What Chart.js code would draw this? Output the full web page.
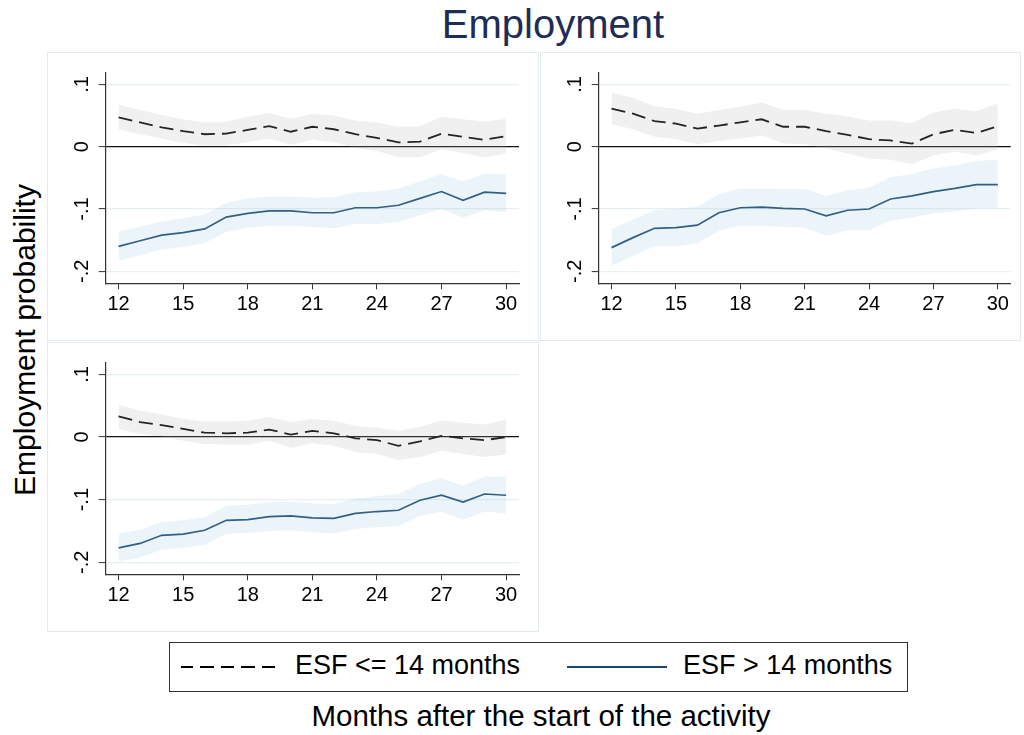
<!DOCTYPE html>
<html>
<head>
<meta charset="utf-8">
<script src="https://cdn.jsdelivr.net/npm/chart.js@4.4.1/dist/chart.umd.min.js"></script>
<style>
  html, body { margin: 0; padding: 0; background: #fff; }
  body { width: 1024px; height: 735px; position: relative; overflow: hidden;
         font-family: "Liberation Sans", Arial, Helvetica, sans-serif; color: #000; }
  .frame { position: absolute; box-sizing: border-box; border: 1.5px solid #e4ebef; }
  .panel { position: absolute; }
  #title { position: absolute; left: 0; width: 1106px; top: 2px; text-align: center;
           font-size: 40px; color: #1e2d53; white-space: nowrap; }
  #ylab { position: absolute; left: 25px; top: 340px; transform: translate(-50%, -50%) rotate(-90deg);
          font-size: 30px; white-space: nowrap; }
  #xlab { position: absolute; left: 0; width: 1082px; top: 699px; text-align: center;
          font-size: 29.5px; white-space: nowrap; }
  #legend { position: absolute; left: 169px; top: 642px; width: 739px; height: 50px;
            box-sizing: border-box; border: 1.5px solid #333; }
  .key { position: absolute; top: 23px; height: 0; }
  .ltext { position: absolute; top: 7px; font-size: 27px; white-space: nowrap; }
</style>
</head>
<body>
<div id="title">Employment</div>
<div id="ylab">Employment probability</div>

<div class="frame" style="left:47px;top:52px;width:492px;height:289px;"></div>
<div class="frame" style="left:540px;top:52px;width:481px;height:289px;"></div>
<div class="frame" style="left:47px;top:342px;width:492px;height:290px;"></div>

<canvas id="c1" class="panel" style="left:47px;top:52px;" width="492" height="289"></canvas>
<canvas id="c2" class="panel" style="left:540px;top:52px;" width="480" height="289"></canvas>
<canvas id="c3" class="panel" style="left:47px;top:342px;" width="492" height="290"></canvas>

<div id="legend">
  <div class="key" style="left:11px;width:98px;border-top:2px dashed #000;border-image:repeating-linear-gradient(90deg,#000 0 13px,transparent 13px 20px) 1;"></div>
  <div class="ltext" style="left:125px;">ESF &lt;= 14 months</div>
  <div class="key" style="left:397px;width:100px;border-top:2px solid #1a476f;"></div>
  <div class="ltext" style="left:513px;">ESF &gt; 14 months</div>
</div>
<div id="xlab">Months after the start of the activity</div>

<script>
// Months after the start of the activity
const months = [12, 13, 14, 15, 16, 17, 18, 19, 20, 21, 22, 23, 24, 25, 26, 27, 28, 29, 30];
const xTicks = [12, 15, 18, 21, 24, 27, 30];
const yTicks = [-0.2, -0.1, 0, 0.1];
const yTickLabels = ['-.2', '-.1', '0', '.1'];
const seriesNames = ['ESF <= 14 months', 'ESF > 14 months'];

// Panel 1: point estimates and 95% bounds
const p1ShortEst = [0.047, 0.039, 0.031, 0.025, 0.020, 0.021, 0.027, 0.033, 0.024, 0.032, 0.028, 0.020, 0.014, 0.007, 0.008, 0.021, 0.016, 0.011, 0.017];
const p1ShortHi  = [0.067, 0.059, 0.051, 0.044, 0.039, 0.040, 0.048, 0.054, 0.045, 0.053, 0.050, 0.042, 0.039, 0.032, 0.033, 0.048, 0.044, 0.040, 0.045];
const p1ShortLo  = [0.028, 0.020, 0.013, 0.006, 0.002, 0.002, 0.007, 0.013, 0.003, 0.011, 0.007, -0.002, -0.007, -0.017, -0.017, -0.004, -0.010, -0.017, -0.011];
const p1LongEst  = [-0.160, -0.151, -0.142, -0.138, -0.132, -0.113, -0.107, -0.103, -0.103, -0.106, -0.106, -0.098, -0.098, -0.094, -0.083, -0.072, -0.086, -0.073, -0.075];
const p1LongHi   = [-0.136, -0.128, -0.120, -0.115, -0.109, -0.090, -0.083, -0.080, -0.080, -0.082, -0.081, -0.073, -0.072, -0.067, -0.056, -0.044, -0.056, -0.043, -0.044];
const p1LongLo   = [-0.183, -0.174, -0.165, -0.161, -0.155, -0.137, -0.130, -0.127, -0.127, -0.129, -0.131, -0.124, -0.124, -0.121, -0.110, -0.100, -0.114, -0.102, -0.105];

// Panel 2
const p2ShortEst = [0.061, 0.053, 0.041, 0.037, 0.029, 0.034, 0.039, 0.044, 0.032, 0.032, 0.025, 0.019, 0.012, 0.010, 0.005, 0.020, 0.027, 0.022, 0.033];
const p2ShortHi  = [0.087, 0.078, 0.065, 0.061, 0.053, 0.059, 0.064, 0.071, 0.059, 0.059, 0.053, 0.049, 0.042, 0.042, 0.038, 0.055, 0.061, 0.057, 0.070];
const p2ShortLo  = [0.036, 0.028, 0.016, 0.012, 0.004, 0.009, 0.013, 0.018, 0.005, 0.004, -0.003, -0.011, -0.019, -0.021, -0.028, -0.014, -0.008, -0.014, -0.004];
const p2LongEst  = [-0.162, -0.146, -0.131, -0.130, -0.126, -0.106, -0.098, -0.097, -0.099, -0.100, -0.111, -0.102, -0.100, -0.084, -0.079, -0.072, -0.067, -0.061, -0.061];
const p2LongHi   = [-0.132, -0.117, -0.102, -0.100, -0.096, -0.076, -0.067, -0.067, -0.068, -0.068, -0.079, -0.070, -0.066, -0.049, -0.044, -0.035, -0.030, -0.023, -0.021];
const p2LongLo   = [-0.191, -0.175, -0.160, -0.160, -0.155, -0.135, -0.127, -0.127, -0.129, -0.130, -0.143, -0.134, -0.134, -0.119, -0.114, -0.107, -0.104, -0.099, -0.099];

// Panel 3
const p3ShortEst = [0.033, 0.024, 0.019, 0.013, 0.007, 0.006, 0.007, 0.012, 0.004, 0.010, 0.006, -0.002, -0.005, -0.014, -0.007, 0.002, -0.002, -0.005, 0.000];
const p3ShortHi  = [0.052, 0.042, 0.036, 0.029, 0.025, 0.025, 0.026, 0.032, 0.024, 0.029, 0.026, 0.018, 0.015, 0.010, 0.016, 0.027, 0.023, 0.020, 0.028];
const p3ShortLo  = [0.013, 0.005, 0.001, -0.006, -0.011, -0.012, -0.012, -0.006, -0.017, -0.010, -0.014, -0.024, -0.027, -0.037, -0.032, -0.022, -0.027, -0.032, -0.028];
const p3LongEst  = [-0.177, -0.170, -0.157, -0.155, -0.149, -0.133, -0.132, -0.127, -0.126, -0.129, -0.130, -0.122, -0.119, -0.117, -0.101, -0.093, -0.104, -0.091, -0.093];
const p3LongHi   = [-0.154, -0.148, -0.136, -0.133, -0.128, -0.110, -0.108, -0.104, -0.103, -0.106, -0.107, -0.098, -0.094, -0.091, -0.075, -0.066, -0.078, -0.063, -0.063];
const p3LongLo   = [-0.199, -0.192, -0.180, -0.177, -0.172, -0.155, -0.153, -0.150, -0.149, -0.152, -0.154, -0.147, -0.144, -0.142, -0.126, -0.119, -0.132, -0.119, -0.122];

const FONT = '"Liberation Sans", Arial, Helvetica, sans-serif';
const NAVY = '#1a476f';

function pts(vals) {
  return months.map((m, i) => ({ x: m, y: vals[i] }));
}

function band(vals, fill, color) {
  return { data: pts(vals), fill: fill, backgroundColor: color, borderWidth: 0,
           pointRadius: 0, tension: 0 };
}

function drawPanel(id, rightPad, s) {
  const datasets = [
    band(s.shortHi, '+1', 'rgba(180,180,180,0.2)'),
    band(s.shortLo, false, 'transparent'),
    band(s.longHi, '+1', 'rgba(150,200,225,0.2)'),
    band(s.longLo, false, 'transparent'),
    { label: seriesNames[0], data: pts(s.shortEst), borderColor: '#000', borderWidth: 1.8,
      borderDash: [14, 7], pointRadius: 0, fill: false, tension: 0 },
    { label: seriesNames[1], data: pts(s.longEst), borderColor: NAVY, borderWidth: 1.7,
      pointRadius: 0, fill: false, tension: 0 }
  ];
  return new Chart(document.getElementById(id), {
    type: 'line',
    data: { datasets },
    options: {
      responsive: false,
      animation: false,
      events: [],
      layout: { padding: { top: 20.7, right: rightPad, left: 0, bottom: 0 } },
      plugins: { legend: { display: false }, tooltip: { enabled: false } },
      scales: {
        x: {
          type: 'linear', min: 11.4, max: 30.6,
          afterBuildTicks: (sc) => { sc.ticks = xTicks.map(v => ({ value: v })); },
          afterFit: (sc) => { sc.height = 57.7; },
          grid: { drawOnChartArea: false, drawTicks: true, tickLength: 6, tickColor: '#333', tickWidth: 1 },
          border: { display: true, color: '#333', width: 1.2 },
          ticks: { color: '#000', font: { family: FONT, size: 20 }, padding: 3, maxRotation: 0 }
        },
        y: {
          type: 'linear', min: -0.2193, max: 0.1188,
          afterBuildTicks: (sc) => { sc.ticks = yTicks.map(v => ({ value: v })); },
          afterFit: (sc) => { sc.width = 58.7; },
          grid: {
            color: (c) => (c.tick && c.tick.value === 0 ? '#111' : '#e6eff2'),
            lineWidth: 1.2,
            drawTicks: true, tickLength: 7, tickColor: '#333', tickWidth: 1
          },
          border: { display: true, color: '#333', width: 1.2 },
          ticks: {
            color: '#000', font: { family: FONT, size: 20 }, padding: 5,
            minRotation: 90, maxRotation: 90, crossAlign: 'center',
            callback: (v) => { const k = yTicks.indexOf(v); return k >= 0 ? yTickLabels[k] : ''; }
          }
        }
      }
    }
  });
}

drawPanel('c1', 20, { shortEst: p1ShortEst, shortHi: p1ShortHi, shortLo: p1ShortLo,
                      longEst: p1LongEst, longHi: p1LongHi, longLo: p1LongLo });
drawPanel('c2', 9.3, { shortEst: p2ShortEst, shortHi: p2ShortHi, shortLo: p2ShortLo,
                      longEst: p2LongEst, longHi: p2LongHi, longLo: p2LongLo });
drawPanel('c3', 20, { shortEst: p3ShortEst, shortHi: p3ShortHi, shortLo: p3ShortLo,
                      longEst: p3LongEst, longHi: p3LongHi, longLo: p3LongLo });
</script>
</body>
</html>
